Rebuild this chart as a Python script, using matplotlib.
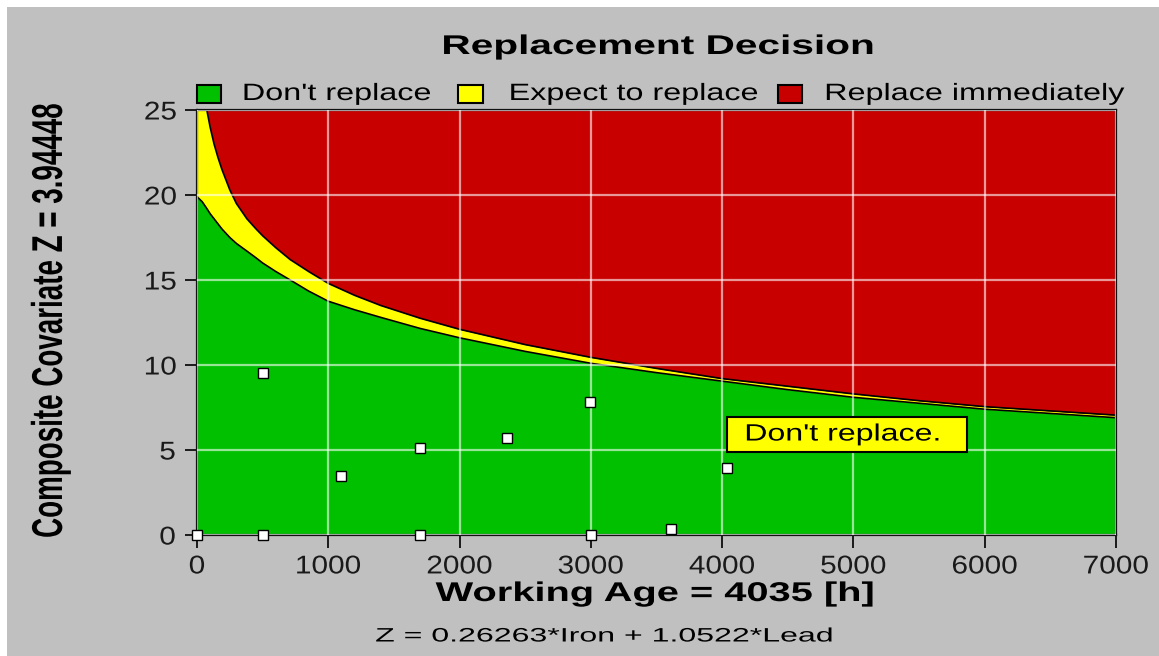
import matplotlib.pyplot as plt
from matplotlib import patheffects
from matplotlib.patches import Rectangle
from matplotlib.transforms import Affine2D

plt.rcParams['font.family'] = ['Liberation Sans', 'DejaVu Sans']

# decision boundaries
age = [0, 40, 75, 100, 130, 160, 190, 220, 250, 300, 380, 450, 500, 600, 710, 850, 1000,
       1200, 1400, 1700, 2000, 2500, 3000, 3500, 4000, 4500, 5000, 5500, 6000, 6500, 7000]
upper_z = [28.0, 26.6, 25.0, 24.0, 23.0, 22.2, 21.5, 20.9, 20.3, 19.5, 18.6, 18.0, 17.6, 16.9,
           16.2, 15.5, 14.8, 14.1, 13.5, 12.75, 12.1, 11.2, 10.45, 9.8, 9.2, 8.75, 8.3, 7.9,
           7.55, 7.3, 7.05]
lower_z = [19.9, 19.6, 19.2, 18.9, 18.6, 18.3, 18.0, 17.75, 17.5, 17.15, 16.7, 16.3, 16.0, 15.5,
           15.0, 14.35, 13.75, 13.25, 12.8, 12.15, 11.6, 10.8, 10.1, 9.55, 9.05, 8.55, 8.1, 7.75,
           7.4, 7.15, 6.9]

# inspection points
obs_age = [0, 500, 1700, 3000, 500, 1100, 1700, 2360, 2990, 3610, 4035]
obs_z = [0, 0, 0, 0, 9.55, 3.5, 5.1, 5.7, 7.8, 0.35, 3.94]

x_ticks = [0, 1000, 2000, 3000, 4000, 5000, 6000, 7000]
y_ticks = [0, 5, 10, 15, 20, 25]
legend_labels = ["Don't replace", "Expect to replace", "Replace immediately"]
colors = ['#00c000', '#ffff00', '#c80000']

W, H = 1159, 656


class Stretch(patheffects.AbstractPathEffect):
    # widen text about its own centre (the old screenshot is stretched sideways)
    def __init__(self, sx=1.0, sy=1.0):
        super().__init__()
        self.sx, self.sy = sx, sy

    def draw_path(self, renderer, gc, tpath, affine, rgbFace=None):
        ext = tpath.get_extents()
        cx = (ext.x0 + ext.x1) / 2
        cy = (ext.y0 + ext.y1) / 2
        t = Affine2D().translate(-cx, -cy).scale(self.sx, self.sy).translate(cx, cy) + affine
        renderer.draw_path(gc, tpath, t, rgbFace)


def ftext(px, py, s, sx=1.0, sy=1.0, **kw):
    return fig.text(px / W, 1 - py / H, s, ha='center', va='center',
                    path_effects=[Stretch(sx, sy)], **kw)


fig = plt.figure(figsize=(W / 100, H / 100), dpi=100, facecolor='white')
fig.patches.append(Rectangle((7 / W, 0), 1, 1 - 7 / H, transform=fig.transFigure,
                             fc='#c0c0c0', ec='none', zorder=-1))

ax = fig.add_axes([197 / W, 1 - 535 / H, (1116 - 197) / W, (535 - 110) / H])
ax.set_facecolor(colors[0])

ax.fill_between(age, 0, lower_z, color=colors[0], lw=0)
ax.fill_between(age, lower_z, upper_z, color=colors[1], lw=0)
ax.fill_between(age, upper_z, 30, color=colors[2], lw=0)
ax.plot(age, lower_z, color='black', lw=1.2)
ax.plot(age, upper_z, color='black', lw=1.2)

ax.plot(obs_age, obs_z, ls='none', marker='s', ms=6.5, mfc='white', mec='black',
        mew=1.0, zorder=6, clip_on=False)

ax.set_xlim(0, 7000)
ax.set_ylim(0, 25)
ax.set_xticks(x_ticks)
ax.set_yticks(y_ticks)
ax.grid(True, color='white', alpha=0.6, lw=1.6)
ax.set_axisbelow(False)
for s in ax.spines.values():
    s.set_linewidth(1.6)
    s.set_color('#111111')
ax.tick_params(direction='out', length=9, width=1.4, labelsize=18.5, colors='#1a1a1a')
ax.tick_params(axis='x', pad=5)
ax.tick_params(axis='y', pad=7)
for lab in ax.get_xticklabels() + ax.get_yticklabels():
    lab.set_path_effects([Stretch(1.16)])

# label box at current point
ax.add_patch(Rectangle((4035, 4.86), 1830, 2.1, fc='#ffff00', ec='black', lw=1.5, zorder=7))
ax.text(4920, 5.91, "Don't replace.", fontsize=17, ha='center', va='center',
        zorder=8, path_effects=[Stretch(1.36)])

# legend row above the plot
for (x0, x1), c in zip([(197, 221), (458, 483), (778, 802)], colors):
    fig.patches.append(Rectangle((x0 / W, 1 - 103 / H), (x1 - x0) / W, 18 / H,
                                 transform=fig.transFigure, fc=c, ec='black', lw=1.5))
for cx, lab in zip([337, 634, 975], legend_labels):
    ftext(cx, 94, lab, sx=1.37, fontsize=17)

ftext(658, 47, 'Replacement Decision', sx=1.5, fontsize=19.5, fontweight='bold')
ftext(51, 321, 'Composite Covariate Z = 3.94448', sy=1.55, fontsize=20, fontweight='bold',
      rotation=90)
ftext(655, 594, 'Working Age = 4035 [h]', sx=1.47, fontsize=19.5, fontweight='bold')
ftext(605, 637, 'Z = 0.26263*Iron + 1.0522*Lead', sx=1.65, fontsize=14)

fig.savefig('out.png', dpi=100, facecolor=fig.get_facecolor())
